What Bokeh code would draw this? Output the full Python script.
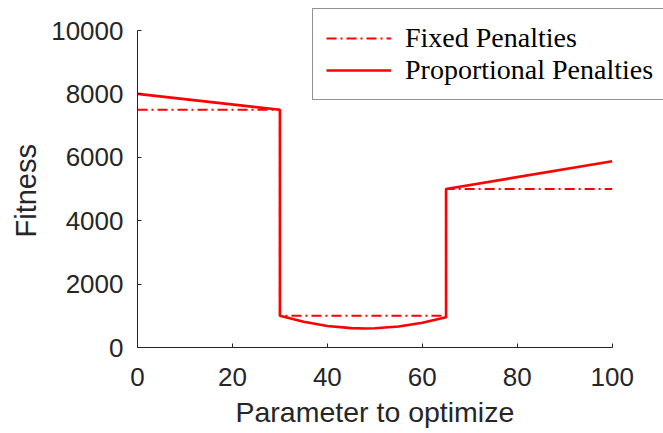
from bokeh.plotting import figure
from bokeh.models import Range1d, Legend, LegendItem, FixedTicker, Title
from bokeh.embed import file_html
from bokeh.resources import INLINE

# Data
fixed_x = [0, 30, 30, 65, 65, 100]
fixed_y = [7500, 7500, 1000, 1000, 5000, 5000]

prop_x = [0, 30, 30, 35, 40, 45, 48, 50, 55, 60, 65, 65, 100]
prop_y = [8000, 7500, 1000, 810, 680, 610, 600, 605, 660, 780, 955, 5000, 5875]

x_ticks = [0, 20, 40, 60, 80, 100]
y_ticks = [0, 2000, 4000, 6000, 8000, 10000]

GRAY = "#262626"
RED = "#FF0000"

# Frame is extended past the axes' extent (right/top) so that the legend,
# which sits outside the data box, is not clipped. Axis bounds keep the
# axis lines to the data extent.
X_END = 100 * (663 - 137) / (611.7 - 137)
Y_END = 10000 * 347 / (347 - 30)

p = figure(width=663, height=433, output_backend="svg", toolbar_location=None,
           x_range=Range1d(0, X_END), y_range=Range1d(0, Y_END),
           min_border_left=137, min_border_right=0, min_border_top=0, min_border_bottom=86)
p.outline_line_color = None
p.xgrid.visible = False
p.ygrid.visible = False
p.background_fill_color = "white"
p.border_fill_color = "white"

r_fixed = p.line(fixed_x, fixed_y, line_color=RED, line_width=2, line_dash="10 4 2 4")
r_prop = p.line(prop_x, prop_y, line_color=RED, line_width=2.6)

for ax in (p.xaxis[0], p.yaxis[0]):
    ax.axis_line_color = GRAY
    ax.major_tick_line_color = GRAY
    ax.major_tick_in = 4
    ax.major_tick_out = 0
    ax.minor_tick_line_color = None
    ax.major_label_text_font = "Liberation Sans"
    ax.major_label_text_font_size = "26px"
    ax.major_label_text_color = GRAY

p.xaxis.bounds = (0, 100)
p.yaxis.bounds = (0, 10000)
p.xaxis.ticker = FixedTicker(ticks=x_ticks)
p.yaxis.ticker = FixedTicker(ticks=y_ticks)
p.xaxis.major_label_standoff = 20
p.yaxis.major_label_standoff = 14

# Axis titles (positioned on the data box rather than the extended frame)
xtitle = Title(text="Parameter to optimize", align="left", offset=98, standoff=11,
               text_font="Liberation Sans", text_font_size="28.5px",
               text_font_style="normal", text_color=GRAY)
p.add_layout(xtitle, "below")
ytitle = Title(text="Fitness", align="left", offset=110, standoff=14,
               text_font="Liberation Sans", text_font_size="29px",
               text_font_style="normal", text_color=GRAY)
p.add_layout(ytitle, "left")

legend = Legend(items=[LegendItem(label="Fixed Penalties", renderers=[r_fixed]),
                       LegendItem(label="Proportional Penalties", renderers=[r_prop])],
                location=(175, 247))
legend.label_text_font = "Liberation Serif"
legend.label_text_font_size = "28px"
legend.label_text_color = "black"
legend.border_line_color = GRAY
legend.border_line_width = 1
legend.background_fill_color = "white"
legend.background_fill_alpha = 1
legend.padding = 13
legend.spacing = 0
legend.glyph_width = 65
legend.glyph_height = 30
legend.label_height = 30
legend.label_standoff = 14
legend.margin = 0
p.add_layout(legend, "center")

open("out.html", "w").write(file_html(p, INLINE))
